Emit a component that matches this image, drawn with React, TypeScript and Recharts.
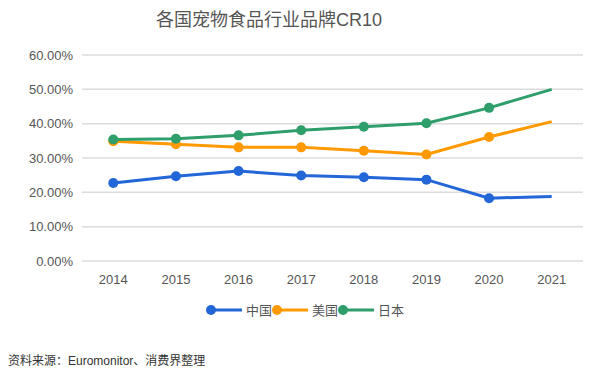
import React from 'react';
import { LineChart, Line, XAxis, YAxis, CartesianGrid } from 'recharts';

const years = ['2014', '2015', '2016', '2017', '2018', '2019', '2020', '2021'];
const china = [22.7, 24.7, 26.2, 24.9, 24.4, 23.7, 18.3, 18.8];
const usa = [34.9, 34.0, 33.1, 33.1, 32.1, 31.0, 36.1, 40.6];
const japan = [35.4, 35.6, 36.6, 38.1, 39.1, 40.1, 44.6, 50.0];
const yTicks = [0, 10, 20, 30, 40, 50, 60];
const seriesNames = ['中国', '美国', '日本'];
const colors = ['#2266d8', '#ff9900', '#2e9e6a'];

const data = years.map((y, i) => ({ year: y, china: china[i], usa: usa[i], japan: japan[i] }));

const font = 'Arial, "Liberation Sans", "Noto Sans CJK SC", sans-serif';

const makeDot = (color: string) => (props: any) => {
  const { cx, cy, index } = props;
  if (index === years.length - 1 || cx == null || cy == null) return <g key={`d${index}`} />;
  return <circle key={`d${index}`} cx={cx} cy={cy} r={5} fill={color} stroke={color} strokeWidth={0} />;
};

export default function App() {
  return (
    <div style={{ position: 'absolute', left: 0, top: 0, width: 600, height: 372, background: '#fff', fontFamily: font }}>
      <div style={{ position: 'absolute', top: 5, left: 0, width: 538, textAlign: 'center', fontSize: 18, color: '#555' }}>
        各国宠物食品行业品牌CR10
      </div>
      <LineChart width={600} height={372} data={data} margin={{ top: 55, right: 17, bottom: 81, left: 6 }}>
        <CartesianGrid horizontal vertical={false} stroke="#dcdcdc" strokeWidth={1.5} />
        <XAxis
          dataKey="year"
          scale="band"
          axisLine={false}
          tickLine={false}
          tick={{ fill: '#555', fontSize: 13, fontFamily: font }}
          tickMargin={8}
          height={30}
        />
        <YAxis
          domain={[0, 60]}
          ticks={yTicks}
          width={76}
          axisLine={false}
          tickLine={false}
          tickMargin={3}
          tickFormatter={(v: number) => `${v.toFixed(2)}%`}
          tick={{ fill: '#555', fontSize: 13, fontFamily: font }}
        />
        <Line dataKey="china" name={seriesNames[0]} stroke={colors[0]} strokeWidth={3} dot={makeDot(colors[0])} isAnimationActive={false} />
        <Line dataKey="usa" name={seriesNames[1]} stroke={colors[1]} strokeWidth={3} dot={makeDot(colors[1])} isAnimationActive={false} />
        <Line dataKey="japan" name={seriesNames[2]} stroke={colors[2]} strokeWidth={3} dot={makeDot(colors[2])} isAnimationActive={false} />
      </LineChart>
      <div style={{ position: 'absolute', top: 300, left: 5, width: 600, display: 'flex', justifyContent: 'center', alignItems: 'center', fontSize: 13, color: '#555' }}>
        {seriesNames.map((n, i) => (
          <div key={n} style={{ display: 'flex', alignItems: 'center' }}>
            <svg width={38} height={12}>
              <line x1={4} y1={6} x2={36} y2={6} stroke={colors[i]} strokeWidth={3} />
              <circle cx={5} cy={6} r={5} fill={colors[i]} />
            </svg>
            <span style={{ marginLeft: 2 }}>{n}</span>
          </div>
        ))}
      </div>
      <div style={{ position: 'absolute', top: 351, left: 8, fontSize: 12, color: '#333' }}>
        资料来源：Euromonitor、消费界整理
      </div>
    </div>
  );
}
